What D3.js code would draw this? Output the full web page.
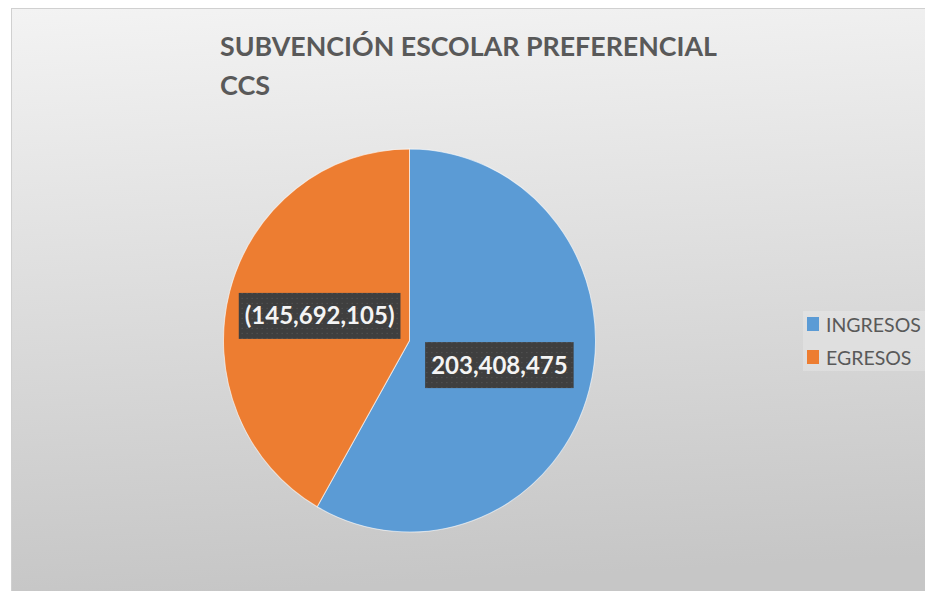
<!DOCTYPE html>
<html>
<head>
<meta charset="utf-8">
<script src="https://cdn.jsdelivr.net/npm/d3@7"></script>
<style>
  html, body { margin: 0; padding: 0; background: #ffffff; }
  svg { display: block; }
</style>
</head>
<body>
<svg id="chart" width="925" height="591"></svg>
<script>
const titleLines = ["SUBVENCIÓN ESCOLAR PREFERENCIAL", "CCS"];
const categories = ["INGRESOS", "EGRESOS"];
const values = [203408475, 145692105];
const valueLabels = ["203,408,475", "(145,692,105)"];
const colors = ["#5B9BD5", "#ED7D31"];

const svg = d3.select("#chart");
const W = 925, H = 591;
const defs = svg.append("defs");

const grad = defs.append("linearGradient").attr("id", "bg")
  .attr("x1", 0).attr("y1", 0).attr("x2", 0.08).attr("y2", 1);
grad.append("stop").attr("offset", "0%").attr("stop-color", "#f3f3f3");
grad.append("stop").attr("offset", "100%").attr("stop-color", "#c6c6c6");

const pat = defs.append("pattern").attr("id", "dots")
  .attr("width", 5).attr("height", 5).attr("patternUnits", "userSpaceOnUse");
pat.append("rect").attr("width", 5).attr("height", 5).attr("fill", "#3f3f3f");
pat.append("rect").attr("x", 2).attr("y", 2).attr("width", 1).attr("height", 1).attr("fill", "#5a5a5a");

// chart area
svg.append("rect").attr("x", 11.5).attr("y", 8.5).attr("width", W).attr("height", H)
  .attr("fill", "url(#bg)").attr("stroke", "#d0d0d0").attr("stroke-width", 1);

// title
const title = svg.append("text")
  .attr("font-family", "Lato, 'Open Sans', sans-serif").attr("font-weight", 700)
  .attr("font-size", 27).attr("fill", "#595959");
titleLines.forEach((t, i) => {
  const ts = title.append("tspan").attr("x", 220).attr("y", 56 + i * 39).text(t);
  if (i === 0) ts.attr("textLength", 497).attr("lengthAdjust", "spacingAndGlyphs");
});

// pie
const cx = 409.5, cy = 340.5, R = 186;
const pie = d3.pie().sort(null).value(d => d)(values);
const arc = d3.arc().innerRadius(0).outerRadius(R);
const g = svg.append("g").attr("transform", `translate(${cx},${cy}) scale(1,1.03)`);
g.selectAll("path").data(pie).join("path")
  .attr("d", arc)
  .attr("fill", (d, i) => colors[i])
  .attr("stroke", "rgba(255,255,255,0.6)").attr("stroke-width", 1);

// labels
const lg = svg.append("g").attr("transform", `translate(${cx},${cy})`);
pie.forEach((d, i) => {
  const [x, y0] = arc.centroid(d);
  const y = y0 * 1.03;
  const grp = lg.append("g").attr("transform", `translate(${x},${y})`);
  const rect = grp.append("rect").attr("fill", "url(#dots)");
  const txt = grp.append("text").attr("text-anchor", "middle").attr("dy", "0.35em")
    .attr("font-family", "Lato, 'Open Sans', sans-serif").attr("font-weight", 700)
    .attr("font-size", 24).attr("fill", "#f4f4f4").text(valueLabels[i]);
  const bb = txt.node().getBBox();
  rect.attr("x", bb.x - 6).attr("y", -23).attr("width", bb.width + 12).attr("height", 46);
});

// legend
const leg = svg.append("g");
leg.append("rect").attr("x", 803).attr("y", 311).attr("width", 130).attr("height", 60)
  .attr("fill", "#ffffff").attr("opacity", 0.22);
categories.forEach((c, i) => {
  leg.append("rect").attr("x", 807).attr("y", 317 + i * 33).attr("width", 12).attr("height", 14)
    .attr("fill", colors[i]);
  leg.append("text").attr("x", 826).attr("y", 332 + i * 33)
    .attr("font-family", "Lato, 'Open Sans', sans-serif").attr("font-size", 19.5)
    .attr("fill", "#595959").text(c);
});
</script>
</body>
</html>
